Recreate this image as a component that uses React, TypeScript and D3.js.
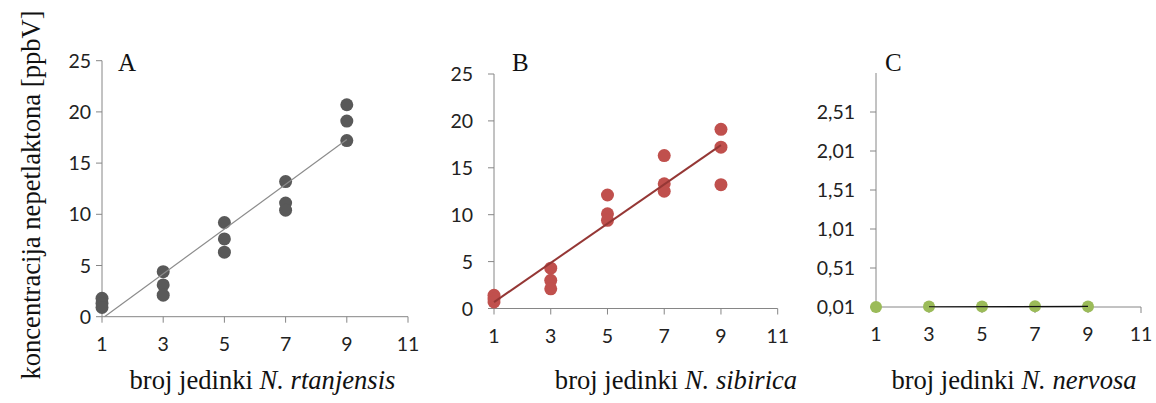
import React from 'react';
import * as d3 from 'd3';

// ---------- data ----------
const xTicks = [1, 3, 5, 7, 9, 11];
const xValues = [1, 3, 5, 7, 9];
const rtanjensis = [
  [1.8, 1.3, 0.9],
  [4.4, 3.1, 2.1],
  [9.2, 7.6, 6.3],
  [13.2, 11.1, 10.4],
  [20.7, 19.1, 17.2],
];
const sibirica = [
  [1.4, 1.0, 0.7],
  [4.3, 3.0, 2.1],
  [12.1, 10.1, 9.4],
  [16.3, 13.3, 12.5],
  [19.1, 17.2, 13.2],
];
const nervosa = [[0.01], [0.015], [0.015], [0.02], [0.015]];
const yTicksAB = [0, 5, 10, 15, 20, 25];
const yTicksC = [0.01, 0.51, 1.01, 1.51, 2.01, 2.51];
const panelLetters = ['A', 'B', 'C'];
const species = ['N. rtanjensis', 'N. sibirica', 'N. nervosa'];
const xTitlePrefix = 'broj jedinki ';
const yTitle = 'koncentracija nepetlaktona [ppbV]';

// ---------- helpers ----------
type Pt = { x: number; y: number };
const toPoints = (vals: number[][]): Pt[] =>
  vals.flatMap((arr, i) => arr.map((v) => ({ x: xValues[i], y: v })));

function fit(pts: Pt[]) {
  const mx = d3.mean(pts, (p) => p.x) as number;
  const my = d3.mean(pts, (p) => p.y) as number;
  const sxy = d3.sum(pts, (p) => (p.x - mx) * (p.y - my));
  const sxx = d3.sum(pts, (p) => (p.x - mx) * (p.x - mx));
  const m = sxy / sxx;
  return { m, b: my - m * mx };
}

const TICK_FONT = "Lato, 'Open Sans', sans-serif";
const SERIF = "'Liberation Serif', 'Times New Roman', 'DejaVu Serif', serif";
const AXIS = '#868686';

type PanelProps = {
  pts: Pt[];
  xRange: [number, number];
  yRange: [number, number]; // [bottom, top]
  yDomain: [number, number];
  yTicks: number[];
  fmt: (v: number) => string;
  labelGap: number;
  dot: string;
  r: number;
  line: string;
  lineWidth: number;
  trendX: [number, number];
  letter: string;
  letterX: number;
  titleCx: number;
  species: string;
};

function Panel(p: PanelProps) {
  const x = d3.scaleLinear().domain([1, 11]).range(p.xRange);
  const y = d3.scaleLinear().domain(p.yDomain).range(p.yRange);
  const { m, b } = fit(p.pts);
  let x0 = p.trendX[0];
  if (m * x0 + b < p.yDomain[0]) x0 = (p.yDomain[0] - b) / m;
  const trend: [number, number][] = [
    [x0, m * x0 + b],
    [p.trendX[1], m * p.trendX[1] + b],
  ];
  const lineGen = d3
    .line<[number, number]>()
    .x((d) => x(d[0]))
    .y((d) => y(d[1]));
  const x1 = x.range()[0];
  const yB = y.range()[0];
  return (
    <g>
      <line x1={x1} x2={x1} y1={y.range()[1]} y2={yB} stroke={AXIS} strokeWidth={1} />
      <line x1={x1} x2={x.range()[1]} y1={yB} y2={yB} stroke={AXIS} strokeWidth={1} />
      {xTicks.map((t) => (
        <g key={'xt' + t}>
          <line x1={x(t)} x2={x(t)} y1={yB} y2={yB + 6} stroke={AXIS} />
          <text
            x={x(t)}
            y={yB + 34}
            textAnchor="middle"
            style={{ fontFamily: TICK_FONT }}
            fontSize={19.5}
            fill="#222"
          >
            {t}
          </text>
        </g>
      ))}
      {p.yTicks.map((t) => (
        <g key={'yt' + t}>
          <line x1={x1 - 6} x2={x1} y1={y(t)} y2={y(t)} stroke={AXIS} />
          <text
            x={x1 - p.labelGap}
            y={y(t)}
            dy="0.36em"
            textAnchor="end"
            style={{ fontFamily: TICK_FONT }}
            fontSize={19.5}
            fill="#222"
          >
            {p.fmt(t)}
          </text>
        </g>
      ))}
      {p.pts.map((d, i) => (
        <circle key={i} cx={x(d.x)} cy={y(d.y)} r={p.r} fill={p.dot} />
      ))}
      <path d={lineGen(trend) || ''} fill="none" stroke={p.line} strokeWidth={p.lineWidth} />
      <text x={p.letterX} y={71} style={{ fontFamily: SERIF }} fontSize={25} fill="#111">
        {p.letter}
      </text>
      <text
        x={p.titleCx}
        y={389}
        textAnchor="middle"
        style={{ fontFamily: SERIF }}
        fontSize={26.6}
        fill="#111"
      >
        {xTitlePrefix}
        <tspan fontStyle="italic">{p.species}</tspan>
      </text>
    </g>
  );
}

export default function App() {
  const fmtInt = (v: number) => d3.format('d')(v);
  const fmtComma = (v: number) => d3.format('.2f')(v).replace('.', ',');
  return (
    <svg
      width={1156}
      height={403}
      style={{ position: 'absolute', left: 0, top: 0, background: '#fff' }}
    >
      <rect width={1156} height={403} fill="#fff" />
      <text
        transform="translate(40,195) rotate(-90)"
        textAnchor="middle"
        style={{ fontFamily: SERIF }}
        fontSize={26.6}
        fill="#111"
      >
        {yTitle}
      </text>
      <Panel
        pts={toPoints(rtanjensis)}
        xRange={[102, 408]}
        yRange={[316.7, 60.7]}
        yDomain={[0, 25]}
        yTicks={yTicksAB}
        fmt={fmtInt}
        labelGap={11}
        dot="#595959"
        r={6.5}
        line="#8c8c8c"
        lineWidth={1.2}
        trendX={[1, 9]}
        letter={panelLetters[0]}
        letterX={118}
        titleCx={262.5}
        species={species[0]}
      />
      <Panel
        pts={toPoints(sibirica)}
        xRange={[494, 777.7]}
        yRange={[308.5, 74]}
        yDomain={[0, 25]}
        yTicks={yTicksAB}
        fmt={fmtInt}
        labelGap={21}
        dot="#c0504d"
        r={6.5}
        line="#953735"
        lineWidth={2}
        trendX={[1, 9]}
        letter={panelLetters[1]}
        letterX={512}
        titleCx={676}
        species={species[1]}
      />
      <Panel
        pts={toPoints(nervosa)}
        xRange={[876, 1141]}
        yRange={[307, 73]}
        yDomain={[0.01, 3.01]}
        yTicks={yTicksC}
        fmt={fmtComma}
        labelGap={21}
        dot="#9bbb59"
        r={6}
        line="#111"
        lineWidth={1.2}
        trendX={[3, 9]}
        letter={panelLetters[2]}
        letterX={885}
        titleCx={1014}
        species={species[2]}
      />
    </svg>
  );
}
